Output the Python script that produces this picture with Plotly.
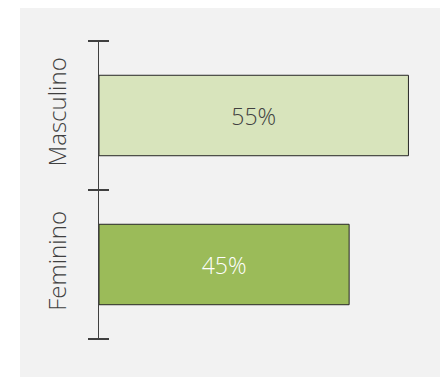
import plotly.graph_objects as go

categories = ["Feminino", "Masculino"]
values = [0.447, 0.553]
bar_colors = ["#9bbb59", "#d8e4bc"]
text_colors = ["#ffffff", "#404040"]

W, H = 440, 377
L, R, T, B = 99, 31, 41, 38
pw, ph = W - L - R, H - T - B

fig = go.Figure()
fig.add_trace(go.Bar(
    y=categories, x=values, orientation="h",
    marker=dict(color=bar_colors, line=dict(color="#262626", width=1)),
    texttemplate="%{x:.0%}", textposition="inside", insidetextanchor="middle",
    textfont=dict(family="Open Sans", size=23, color=text_colors, weight=300),
    hoverinfo="skip",
))
fig.add_trace(go.Scatter(x=[None], y=[None], yaxis="y2", showlegend=False, hoverinfo="skip"))

axis_color = "#404040"
fig.update_layout(
    width=W, height=H,
    margin=dict(l=L, r=R, t=T, b=B, pad=0),
    paper_bgcolor="white", plot_bgcolor="rgba(0,0,0,0)",
    showlegend=False, bargap=0.46,
    xaxis=dict(range=[0, 0.554], visible=False, fixedrange=True),
    yaxis=dict(
        type="category", range=[-0.5, 1.5], showline=True, linecolor=axis_color, linewidth=1.5,
        ticks="outside", tickson="boundaries", ticklen=10, tickwidth=1.5, tickcolor=axis_color,
        tickangle=-90, tickfont=dict(family="Open Sans", size=24, color=axis_color, weight=300),
        ticklabelstandoff=22, showgrid=False, zeroline=False,
    ),
    yaxis2=dict(
        overlaying="y", anchor="free", position=10 / pw, side="left", range=[-0.5, 1.5],
        tickvals=[-0.5, 0.5, 1.5], ticks="outside", ticklen=20, tickwidth=1.5, tickcolor=axis_color,
        showticklabels=False, showline=False, showgrid=False, zeroline=False,
    ),
    shapes=[dict(
        type="rect", xref="paper", yref="paper", layer="below",
        x0=(20 - L) / pw, x1=(W - L) / pw,
        y0=-B / ph, y1=(T - 8) / ph + 1,
        fillcolor="#f2f2f2", line=dict(width=0),
    )],
)

fig.write_html(
    "out.html",
    config={"displayModeBar": False, "staticPlot": True},
    post_script="document.body.style.margin='0';document.body.style.overflow='hidden';",
)
